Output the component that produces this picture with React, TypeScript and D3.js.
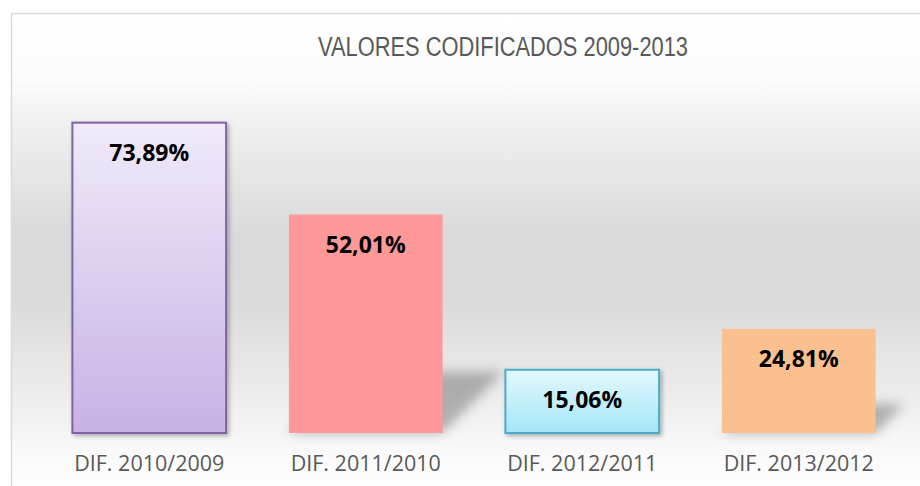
import { useEffect, useRef } from 'react';
import * as d3 from 'd3';

const categories = ['DIF. 2010/2009', 'DIF. 2011/2010', 'DIF. 2012/2011', 'DIF. 2013/2012'];
const values = [73.89, 52.01, 15.06, 24.81];
const valueLabels = ['73,89%', '52,01%', '15,06%', '24,81%'];

const title = 'VALORES CODIFICADOS 2009-2013';

export default function App() {
    const svgRef = useRef<SVGSVGElement>(null);

    useEffect(() => {
        const width = 920;
        const height = 486;

        d3.select(svgRef.current).selectAll('*').remove();

        const svg = d3
            .select(svgRef.current)
            .attr('width', width)
            .attr('height', height)
            .attr('viewBox', `0 0 ${width} ${height}`);

        const defs = svg.append('defs');

        // chart background gradient
        const bg = defs.append('linearGradient')
            .attr('id', 'bg')
            .attr('x1', 0).attr('y1', 0).attr('x2', 0).attr('y2', 1);
        [
            [0, '#ffffff'],
            [0.13, '#fcfcfc'],
            [0.22, '#f1f1f1'],
            [0.45, '#dadada'],
            [0.6, '#dbdbdb'],
            [0.82, '#f0f0f0'],
            [0.92, '#fbfbfb'],
            [1, '#ffffff'],
        ].forEach(([o, c]) => bg.append('stop').attr('offset', o as number).attr('stop-color', c as string));

        const grad = (id: string, top: string, bottom: string) => {
            const g = defs.append('linearGradient')
                .attr('id', id)
                .attr('x1', 0).attr('y1', 0).attr('x2', 0).attr('y2', 1);
            g.append('stop').attr('offset', 0).attr('stop-color', top);
            g.append('stop').attr('offset', 1).attr('stop-color', bottom);
        };
        grad('g0', '#f0eafa', '#c6b2e4');
        grad('g2', '#e3f8fe', '#a4e5f8');

        const soft = defs.append('filter').attr('id', 'soft')
            .attr('x', '-10%').attr('y', '-10%').attr('width', '130%').attr('height', '130%');
        soft.append('feDropShadow')
            .attr('dx', 2).attr('dy', 2).attr('stdDeviation', 2)
            .attr('flood-color', '#000').attr('flood-opacity', 0.3);

        const blur = defs.append('filter').attr('id', 'blur')
            .attr('x', '-50%').attr('y', '-50%').attr('width', '200%').attr('height', '200%');
        blur.append('feGaussianBlur').attr('stdDeviation', 6);

        // frame
        svg.append('rect')
            .attr('x', 11.5).attr('y', 13.5)
            .attr('width', width).attr('height', height)
            .attr('fill', 'url(#bg)')
            .attr('stroke', '#d9d9d9')
            .attr('stroke-width', 1.5);

        // narrow title: no narrow face installed, so squeeze to the measured width
        svg.append('text')
            .attr('x', 318)
            .attr('y', 56)
            .attr('textLength', 370)
            .attr('lengthAdjust', 'spacingAndGlyphs')
            .style('font-family', '"Liberation Sans Narrow", "Liberation Sans", sans-serif')
            .style('font-size', '27px')
            .style('fill', '#595959')
            .text(title);

        const x = d3.scaleBand()
            .domain(categories)
            .range([41, 907])
            .paddingInner(0.29)
            .paddingOuter(0.145);

        const y = d3.scaleLinear().domain([0, 80]).range([433, 97]);

        const fills = ['url(#g0)', '#ff9999', 'url(#g2)', '#fac090'];
        const strokes = ['#8064a2', 'none', '#4bacc6', 'none'];
        const perspective = [false, true, false, true];

        const g = svg.append('g');

        // perspective shadows
        categories.forEach((c, i) => {
            if (!perspective[i]) return;
            const x0 = x(c)!;
            const x1 = x0 + x.bandwidth();
            const base = y(0);
            const h = base - y(values[i]);
            const sh = h * 0.28;
            const dx = h * 0.28;
            g.append('path')
                .attr('d', `M${x0},${base}L${x1},${base}L${x1 + dx},${base - sh}L${x0 + dx},${base - sh}Z`)
                .attr('fill', '#6e6e6e')
                .attr('opacity', 0.5)
                .attr('filter', 'url(#blur)');
        });

        categories.forEach((c, i) => {
            g.append('rect')
                .attr('x', x(c)!)
                .attr('y', y(values[i]))
                .attr('width', x.bandwidth())
                .attr('height', y(0) - y(values[i]))
                .attr('fill', fills[i])
                .attr('stroke', strokes[i])
                .attr('stroke-width', 2)
                .attr('filter', perspective[i] ? null : 'url(#soft)');

            g.append('text')
                .attr('x', x(c)! + x.bandwidth() / 2)
                .attr('y', y(values[i]) + 38)
                .attr('text-anchor', 'middle')
                .style('font-family', '"Open Sans", sans-serif')
                .style('font-weight', 'bold')
                .style('font-size', '23px')
                .style('fill', '#000')
                .text(valueLabels[i]);

            g.append('text')
                .attr('x', x(c)! + x.bandwidth() / 2)
                .attr('y', 471)
                .attr('text-anchor', 'middle')
                .style('font-family', '"Open Sans", sans-serif')
                .style('font-size', '21.5px')
                .style('fill', '#595959')
                .text(c);
        });
    }, []);

    return (
        <div style={{ position: 'fixed', left: 0, top: 0 }}>
            <svg ref={svgRef} style={{ display: 'block' }}></svg>
        </div>
    );
}
